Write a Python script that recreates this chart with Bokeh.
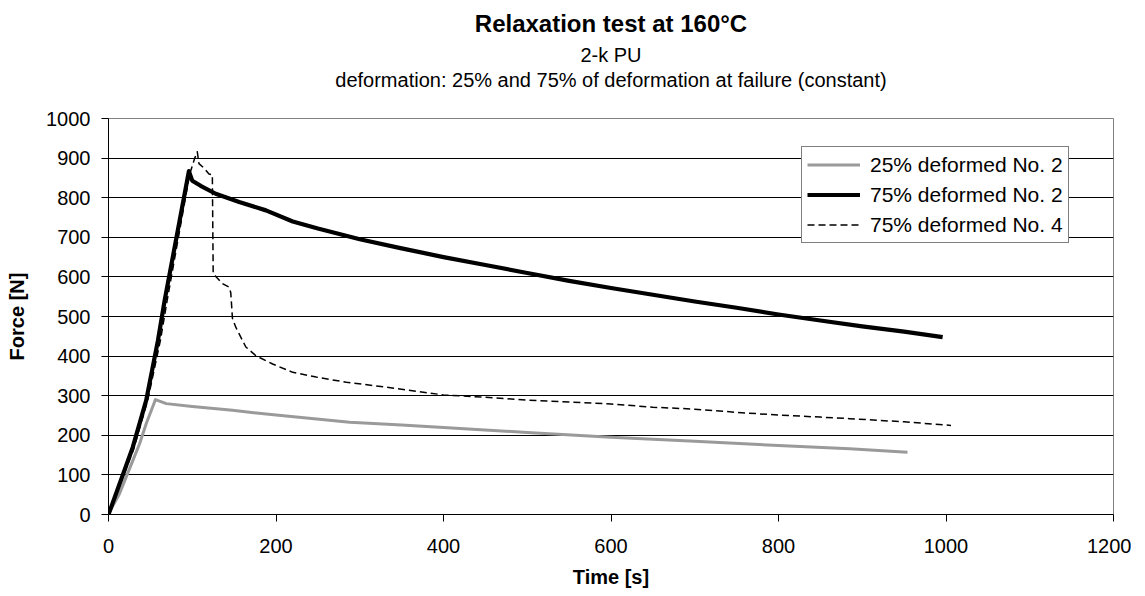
from bokeh.plotting import figure
from bokeh.models import Range1d, FixedTicker, Legend, LegendItem, Title
from bokeh.embed import file_html
from bokeh.resources import INLINE

# ---- data ----
t_25_no2 = [0, 13, 29, 37, 45, 56, 69, 100, 148, 200, 288, 350, 400, 500, 600, 700, 800, 885, 954]
f_25_no2 = [2, 52, 136, 178, 229, 290, 280, 273, 263, 251, 233, 226, 220, 207, 195, 185, 174, 166, 157]

t_75_no2 = [0, 29, 45, 59, 67, 96, 100, 110, 128, 156, 188, 220, 250, 300, 350, 400, 450, 500,
            550, 600, 650, 700, 750, 800, 850, 900, 950, 996]
f_75_no2 = [0, 170, 288, 439, 540, 867, 843, 830, 810, 789, 768, 740, 722, 695, 672, 650, 630, 610,
            590, 572, 555, 538, 522, 505, 490, 475, 462, 448]

t_75_no4 = [0, 30, 47, 62, 70, 97, 103, 106, 108, 114, 120, 124, 125, 129, 136, 144, 146, 148,
            152, 156, 164, 176, 196, 220, 248, 284, 330, 400, 450, 500, 550, 600, 650, 700,
            750, 800, 850, 885, 950, 1006]
f_75_no4 = [0, 165, 290, 440, 540, 860, 900, 916, 886, 875, 860, 858, 608, 599, 583, 574, 560, 495,
            473, 456, 423, 401, 380, 359, 347, 334, 322, 302, 296, 289, 284, 279, 271, 266,
            258, 251, 246, 242, 234, 225]

series_names = ["25% deformed No. 2", "75% deformed No. 2", "75% deformed No. 4"]
x_ticks = [0, 200, 400, 600, 800, 1000, 1200]
y_ticks = [0, 100, 200, 300, 400, 500, 600, 700, 800, 900, 1000]
grid_ticks = [100, 200, 300, 400, 500, 600, 700, 800, 900]

title_text = "Relaxation test at 160°C"
subtitle_1 = "2-k PU"
subtitle_2 = "deformation: 25% and 75% of deformation at failure (constant)"

FONT = "Liberation Sans"

FW, FH = 1005, 396
p = figure(frame_width=FW, frame_height=FH,
           min_border_left=108, min_border_top=118, min_border_right=18, min_border_bottom=78,
           x_range=Range1d(0, 1200), y_range=Range1d(0, 1000),
           output_backend="svg", toolbar_location=None,
           background_fill_color="white", border_fill_color="white")

p.outline_line_color = "#808080"
p.outline_line_width = 1

# axes
for ax in (p.xaxis[0], p.yaxis[0]):
    ax.axis_line_color = "black"
    ax.axis_line_width = 1
    ax.major_tick_line_color = "black"
    ax.major_tick_in = 0
    ax.major_tick_out = 7
    ax.minor_tick_line_color = None
    ax.major_label_text_font = FONT
    ax.major_label_text_font_size = "20px"
    ax.major_label_text_color = "black"
    ax.axis_label_text_font = FONT
    ax.axis_label_text_font_size = "20px"
    ax.axis_label_text_font_style = "bold"
    ax.axis_label_text_color = "black"

p.xaxis.ticker = FixedTicker(ticks=x_ticks)
p.yaxis.ticker = FixedTicker(ticks=y_ticks)
p.xaxis.axis_label = "Time [s]"
p.yaxis.axis_label = "Force [N]"
p.xaxis.major_label_standoff = 17
p.yaxis.major_label_standoff = 11
p.xaxis.axis_label_standoff = 10
p.yaxis.axis_label_standoff = 15

p.xgrid.visible = False
p.ygrid.ticker = FixedTicker(ticks=grid_ticks)
p.ygrid.grid_line_color = "black"
p.ygrid.grid_line_width = 1

r1 = p.line(t_25_no2, f_25_no2, line_color="#9a9a9a", line_width=3, line_join="round")
r2 = p.line(t_75_no2, f_75_no2, line_color="black", line_width=4.2, line_join="round")
r3 = p.line(t_75_no4, f_75_no4, line_color="black", line_width=1.5, line_dash="7 4", line_join="round")

legend = Legend(items=[LegendItem(label=series_names[0], renderers=[r1]),
                       LegendItem(label=series_names[1], renderers=[r2]),
                       LegendItem(label=series_names[2], renderers=[r3])],
                location=(693, 271),
                label_text_font=FONT, label_text_font_size="21px", label_text_color="black",
                glyph_width=53, glyph_height=25, label_height=25, label_standoff=10,
                spacing=5, padding=5, margin=0,
                border_line_color="black", border_line_width=1,
                background_fill_color="white", background_fill_alpha=1.0)
p.add_layout(legend, "center")

# titles: first added is nearest to the plot frame (first one is a blank spacer)
p.add_layout(Title(text=" ", align="center", text_font=FONT, text_font_size="2px",
                   text_color="white", standoff=24, offset=0), "above")
p.add_layout(Title(text=subtitle_2, align="center", text_font=FONT,
                   text_font_size="20px", text_font_style="normal", text_color="black",
                   standoff=0, offset=0), "above")
p.add_layout(Title(text=subtitle_1, align="center", text_font=FONT, text_font_size="20px",
                   text_font_style="normal", text_color="black", standoff=2, offset=0), "above")
p.add_layout(Title(text=title_text, align="center", text_font=FONT, text_font_size="24px",
                   text_font_style="bold", text_color="black", standoff=8, offset=0), "above")

open("out.html", "w").write(file_html(p, INLINE))
